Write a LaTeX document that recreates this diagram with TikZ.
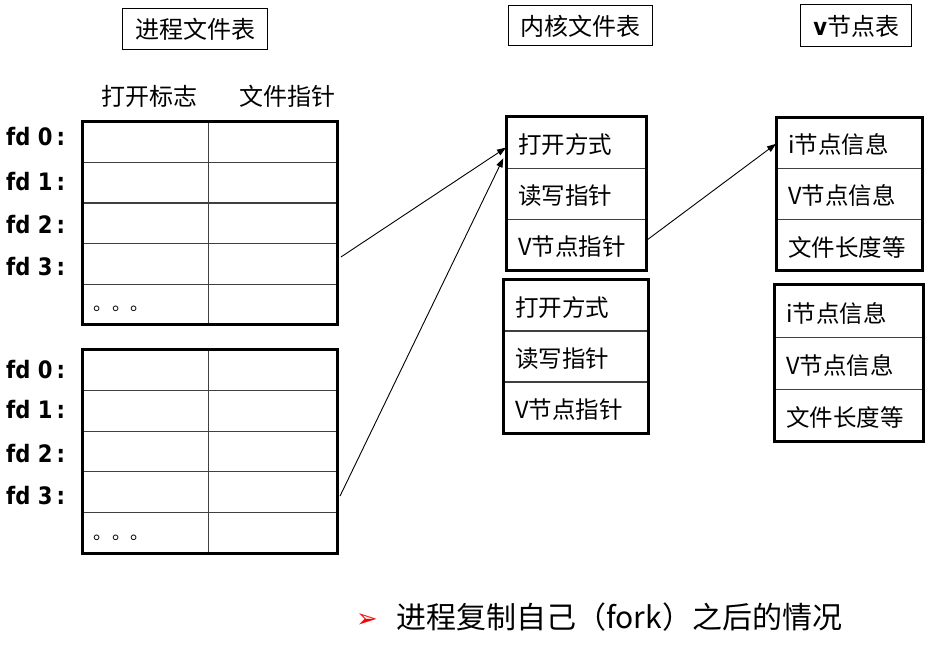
\documentclass[tikz,border=0pt]{standalone}
\usepackage{fontspec}
\setmainfont{Noto Sans CJK SC}
\newfontfamily\fdfont{DejaVu Sans}[FakeStretch=0.88]
\newfontfamily\symfont{DejaVu Sans}
\usetikzlibrary{arrows.meta}
\newcommand\fsCell{\fontsize{23.5pt}{26pt}\selectfont}
\newcommand\fsHead{\fontsize{24pt}{26pt}\selectfont}
\newcommand\fsFd{\fontsize{24pt}{26pt}\selectfont}
\newcommand\fsBig{\fontsize{30pt}{32pt}\selectfont}
\newcommand\fsDot{\fontsize{18.3pt}{20pt}\selectfont}
\begin{document}
\begin{tikzpicture}[x=1pt,y=-1pt,
  gridcell/.style={draw=black!75,line width=1.3pt,inner sep=0pt,outer sep=0pt,anchor=north west},
  outerbox/.style={draw=black,line width=3pt},
  titlebox/.style={draw=black,line width=1pt,inner sep=0pt,font=\fsHead},
  cjk/.style={inner sep=0pt,font=\fsCell},
  head/.style={inner sep=0pt,font=\fsHead},
  fdlab/.style={inner sep=0pt,anchor=west,font=\fsFd\fdfont\bfseries},
  arr/.style={-{Triangle[length=9pt,width=6.5pt]},line width=0.9pt}]
\useasboundingbox (0,0) rectangle (946,647);

% titles
\node[titlebox,minimum width=145.5pt,minimum height=41pt] (tp) at (195,28.8) {进程文件表};
\node[titlebox,minimum width=144pt,minimum height=40pt] (tk) at (580,26) {内核文件表};
\node[titlebox,minimum width=111pt,minimum height=42pt] (tv) at (856.2,26) {{\fdfont\bfseries v}节点表};

% headers
\node[head] (h1) at (149.5,96.7) {打开标志};
\node[head] (h2) at (287.5,96.7) {文件指针};

% process tables
\foreach \t/\top/\h in {p/121.5/40.7, q/350/40.6} {
  \foreach \r in {1,...,5} {
    \node[gridcell,minimum width=126.5pt,minimum height=\h pt] (\t\r a) at (82,{\top+(\r-1)*\h}) {};
    \node[gridcell,minimum width=128.5pt,minimum height=\h pt] (\t\r b) at (208.5,{\top+(\r-1)*\h}) {};
  }
  \draw[outerbox] (\t1a.north west) rectangle (\t5b.south east);
}
\node[inner sep=0pt,anchor=base west,font=\fsDot] (pdots) at (93.5,311) {。。。};
\node[inner sep=0pt,anchor=base west,font=\fsDot] (qdots) at (93.5,539) {。。。};

% fd labels
\node[fdlab] (fdp0) at (6,137) {fd 0\,:};
\node[fdlab] (fdp1) at (6,182) {fd 1\,:};
\node[fdlab] (fdp2) at (6,225) {fd 2\,:};
\node[fdlab] (fdp3) at (6,267) {fd 3\,:};
\node[fdlab] (fdq0) at (6,370) {fd 0\,:};
\node[fdlab] (fdq1) at (6,410) {fd 1\,:};
\node[fdlab] (fdq2) at (6,454) {fd 2\,:};
\node[fdlab] (fdq3) at (6,496) {fd 3\,:};

% kernel and v-node tables
\foreach \t/\x/\w/\top/\h/\ta/\tb/\tc in {
   k1/506/140/117/51.2/打开方式/读写指针/V节点指针,
   k2/503/145/280/51/打开方式/读写指针/V节点指针,
   v1/776/146.7/117.3/51.1/i节点信息/V节点信息/文件长度等,
   v2/774/149.3/285/52.2/i节点信息/V节点信息/文件长度等} {
  \node[gridcell,minimum width=\w pt,minimum height=\h pt] (\t r1) at (\x,\top) {};
  \node[gridcell,minimum width=\w pt,minimum height=\h pt] (\t r2) at (\x,{\top+\h}) {};
  \node[gridcell,minimum width=\w pt,minimum height=\h pt] (\t r3) at (\x,{\top+2*\h}) {};
  \draw[outerbox] (\t r1.north west) rectangle (\t r3.south east);
  \node[cjk,anchor=west] (\t t1) at ([xshift=12pt,yshift=-2pt]\t r1.west) {\ta};
  \node[cjk,anchor=west] (\t t2) at ([xshift=12pt,yshift=-2pt]\t r2.west) {\tb};
  \node[cjk,anchor=west] (\t t3) at ([xshift=12pt,yshift=-2pt]\t r3.west) {\tc};
}

% arrows
\draw[arr] ([xshift=4pt,yshift=7pt]p4b.east) -- ([yshift=-5pt]k1r1.west);
\draw[arr] ([xshift=3pt,yshift=-4pt]q4b.east) -- ([xshift=-2.7pt,yshift=-15.7pt]k1r1.west);
\draw[arr] ([xshift=1pt,yshift=5pt]k1r3.east) -- ([yshift=-1pt]v1r1.west);

% bottom caption
\node[inner sep=0pt,text=red,font=\fontsize{26pt}{28pt}\symfont] (bul) at (367,621) {➢};
\node[inner sep=0pt,anchor=west,font=\fsBig] (cap) at (396,617) {进程复制自己（fork）之后的情况};
\end{tikzpicture}
\end{document}
